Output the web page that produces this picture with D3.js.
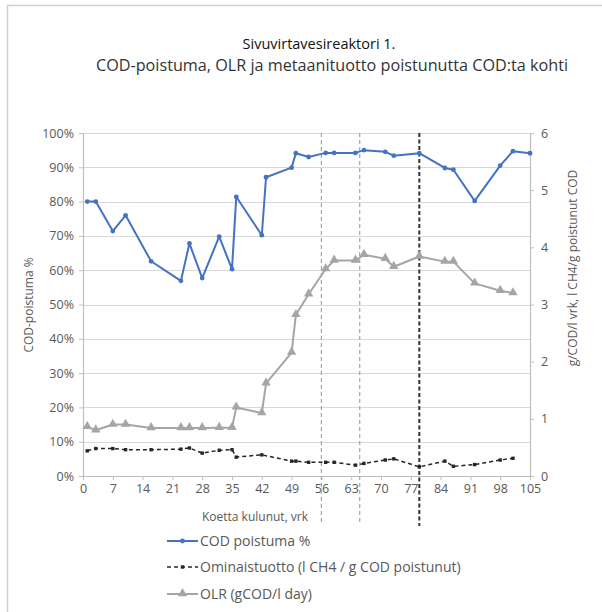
<!DOCTYPE html>
<html>
<head>
<meta charset="utf-8">
<script src="https://cdn.jsdelivr.net/npm/d3@7/dist/d3.min.js"></script>
<style>
    body { margin: 0; background: #fff; }
    svg text { font-family: "Open Sans", "Noto Sans", sans-serif; fill: #595959; }
</style>
</head>
<body>
<div id="chartdiv"></div>
<script>
/*global d3 */

////////////////////////////////////////
// data
////////////////////////////////////////

var codDays = [1, 3, 7, 10, 16, 23, 25, 28, 32, 35, 36, 42, 43, 49, 50, 53,
               57, 59, 64, 66, 71, 73, 79, 85, 87, 92, 98, 101, 105],
    codValues = [0.80, 0.80, 0.714, 0.76, 0.626, 0.569, 0.678, 0.577, 0.698,
                 0.603, 0.814, 0.702, 0.871, 0.899, 0.941, 0.930, 0.942,
                 0.942, 0.942, 0.950, 0.945, 0.934, 0.941, 0.898, 0.893,
                 0.802, 0.905, 0.947, 0.941],
    olrDays = [1, 3, 7, 10, 16, 23, 25, 28, 32, 35, 36, 42, 43, 49, 50, 53,
               57, 59, 64, 66, 71, 73, 79, 85, 87, 92, 98, 101],
    olrValues = [0.86, 0.80, 0.90, 0.90, 0.84, 0.84, 0.84, 0.84, 0.845, 0.845,
                 1.20, 1.10, 1.62, 2.16, 2.82, 3.18, 3.62, 3.77, 3.77, 3.87,
                 3.80, 3.66, 3.84, 3.75, 3.75, 3.37, 3.24, 3.20],
    yieldDays = [1, 3, 7, 10, 16, 23, 25, 28, 32, 35, 36, 42, 49, 50, 53, 57,
                 59, 64, 66, 71, 73, 79, 85, 87, 92, 98, 101],
    yieldValues = [0.44, 0.48, 0.48, 0.46, 0.46, 0.47, 0.49, 0.40, 0.45, 0.46,
                   0.33, 0.37, 0.26, 0.26, 0.24, 0.24, 0.24, 0.19, 0.22, 0.28,
                   0.30, 0.16, 0.26, 0.17, 0.20, 0.28, 0.31],
    markerDays = [56, 65, 79],
    xTicks = [0, 7, 14, 21, 28, 35, 42, 49, 56, 63, 70, 77, 84, 91, 98, 105],
    leftTicks = [0, 0.1, 0.2, 0.3, 0.4, 0.5, 0.6, 0.7, 0.8, 0.9, 1.0],
    rightTicks = [0, 1, 2, 3, 4, 5, 6],
    titleLines = ["Sivuvirtavesireaktori 1.",
                  "COD-poistuma, OLR ja metaanituotto poistunutta COD:ta kohti"],
    legendNames = ["COD poistuma %",
                   "Ominaistuotto (l CH4 / g COD poistunut)",
                   "OLR (gCOD/l day)"];


////////////////////////////////////////
// drawing
////////////////////////////////////////

var width = 602, height = 612,
    plot = {left: 83, right: 530, top: 133, bottom: 476},
    svg, x, yl, yr, series, legend;

svg = d3.select("#chartdiv").append("svg")
    .attr("width", width)
    .attr("height", height);

// outer frame, only top and left edges show
svg.append("path")
    .attr("d", "M7.5," + height + "V5.5H" + width)
    .attr("fill", "none")
    .attr("stroke", "#d0d0d0")
    .attr("stroke-width", 1.5);

x = d3.scaleLinear().domain([0, 105]).range([plot.left, plot.right]);
yl = d3.scaleLinear().domain([0, 1]).range([plot.bottom, plot.top]);
yr = d3.scaleLinear().domain([0, 6]).range([plot.bottom, plot.top]);

// horizontal gridlines
svg.append("g")
    .selectAll("line")
    .data(leftTicks.slice(1))
    .join("line")
    .attr("x1", plot.left)
    .attr("x2", plot.right)
    .attr("y1", function (d) { return Math.round(yl(d)) + 0.5; })
    .attr("y2", function (d) { return Math.round(yl(d)) + 0.5; })
    .attr("stroke", "#d9d9d9")
    .attr("stroke-width", 1.2);

// axes
function styleAxis(g) {
    g.select(".domain").attr("stroke", "#bfbfbf").attr("stroke-width", 1.2);
    g.selectAll(".tick line").attr("stroke", "#bfbfbf");
    g.selectAll(".tick text")
        .attr("fill", "#595959")
        .style("font-size", "12.5px")
        .style("font-family", "\"Open Sans\", sans-serif");
}

svg.append("g")
    .attr("transform", "translate(0," + plot.bottom + ")")
    .call(d3.axisBottom(x).tickValues(xTicks).tickSize(4).tickSizeOuter(0)
          .tickPadding(4))
    .call(styleAxis);

svg.append("g")
    .attr("transform", "translate(" + plot.left + ",0)")
    .call(d3.axisLeft(yl).tickValues(leftTicks).tickSize(4).tickSizeOuter(0)
          .tickPadding(5).tickFormat(d3.format(".0%")))
    .call(styleAxis);

svg.append("g")
    .attr("transform", "translate(" + plot.right + ",0)")
    .call(d3.axisRight(yr).tickValues(rightTicks).tickSize(4).tickSizeOuter(0)
          .tickPadding(7).tickFormat(d3.format("d")))
    .call(styleAxis);

// vertical marker lines
svg.append("g")
    .selectAll("line")
    .data(markerDays)
    .join("line")
    .attr("x1", function (d) { return x(d); })
    .attr("x2", function (d) { return x(d); })
    .attr("y1", plot.top)
    .attr("y2", function (d, i) { return i === 2 ? 526 : 523; })
    .attr("stroke", function (d, i) { return i === 2 ? "#333" : "#a6a6a6"; })
    .attr("stroke-width", function (d, i) { return i === 2 ? 2 : 1.2; })
    .attr("stroke-dasharray", function (d, i) { return i === 2 ? "4,2.5" : "4,3"; });

series = [
    {days: codDays, vals: codValues, y: yl, color: "#4472c4", width: 2,
     dash: null, mark: "dot"},
    {days: yieldDays, vals: yieldValues, y: yr, color: "#262626", width: 1.5,
     dash: "4,3", mark: "square"},
    {days: olrDays, vals: olrValues, y: yr, color: "#a5a5a5", width: 2,
     dash: null, mark: "tri"}
];

function drawMarker(g, mark, color, cx, cy) {
    if(mark === "dot") {
        g.append("circle").attr("cx", cx).attr("cy", cy).attr("r", 2.4)
            .attr("fill", color); }
    else if(mark === "square") {
        g.append("rect").attr("x", cx - 1.7).attr("y", cy - 1.7)
            .attr("width", 3.4).attr("height", 3.4).attr("fill", color); }
    else {
        g.append("path")
            .attr("d", d3.symbol(d3.symbolTriangle, 38)())
            .attr("transform", "translate(" + cx + "," + (cy - 0.5) + ")")
            .attr("fill", color); }
}

series.forEach(function (s) {
    var g = svg.append("g"),
        pts = s.days.map(function (d, i) { return [x(d), s.y(s.vals[i])]; });
    g.append("path")
        .attr("d", d3.line()(pts))
        .attr("fill", "none")
        .attr("stroke", s.color)
        .attr("stroke-width", s.width)
        .attr("stroke-linejoin", "round")
        .attr("stroke-dasharray", s.dash);
    pts.forEach(function (p) { drawMarker(g, s.mark, s.color, p[0], p[1]); });
});

// titles
svg.append("g")
    .selectAll("text")
    .data(titleLines)
    .join("text")
    .attr("x", function (d, i) { return i === 0 ? 319 : 332; })
    .attr("y", function (d, i) { return i === 0 ? 49 : 71; })
    .attr("text-anchor", "middle")
    .style("font-size", function (d, i) { return i === 0 ? "14.5px" : "16.2px"; })
    .style("fill", function (d, i) { return i === 0 ? "#111" : "#333"; })
    .text(function (d) { return d; });

// axis titles
svg.append("text")
    .attr("transform", "translate(33,305) rotate(-90)")
    .attr("text-anchor", "middle")
    .style("font-size", "12px")
    .text("COD-poistuma %");

svg.append("text")
    .attr("transform", "translate(577,268) rotate(-90)")
    .attr("text-anchor", "middle")
    .style("font-size", "12px")
    .text("g/COD/l vrk, l CH4/g poistunut COD");

svg.append("text")
    .attr("x", 255)
    .attr("y", 521)
    .attr("text-anchor", "middle")
    .style("font-size", "12px")
    .text("Koetta kulunut, vrk");

// legend
legend = svg.append("g")
    .selectAll("g")
    .data(series)
    .join("g")
    .attr("transform", function (d, i) {
        return "translate(167," + [541, 567, 594][i] + ")"; });

legend.each(function (s, i) {
    var g = d3.select(this);
    g.append("line")
        .attr("x1", 0).attr("x2", 31)
        .attr("stroke", s.color)
        .attr("stroke-width", s.width)
        .attr("stroke-dasharray", s.dash);
    drawMarker(g, s.mark, s.color, 15.5, 0);
    g.append("text")
        .attr("x", 33)
        .attr("y", 5)
        .style("font-size", "14px")
        .text(legendNames[i]);
});
</script>
</body>
</html>
